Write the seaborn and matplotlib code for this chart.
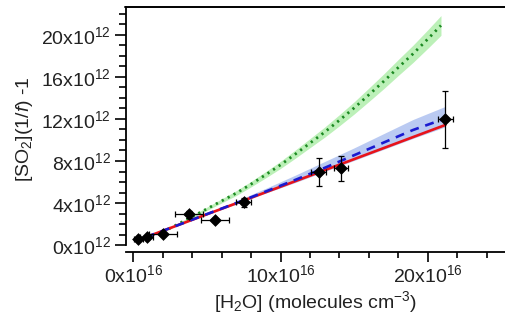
import matplotlib
matplotlib.use("Agg")
import matplotlib.pyplot as plt
import matplotlib.ticker as mticker
from matplotlib.lines import Line2D
import seaborn as sns
import numpy as np
import pandas as pd

# measured points, x in 1e16 molecules cm-3, y in 1e12
h2o = [0.34, 0.91, 2.04, 3.8, 5.57, 7.5, 12.6, 14.1, 21.2]
so2 = [0.6, 0.73, 1.04, 2.92, 2.37, 4.05, 6.95, 7.3, 11.95]
h2o_err = [0.3, 0.45, 0.95, 0.95, 0.95, 0.5, 0.5, 0.5, 0.5]
so2_err = [0.1, 0.1, 0.15, 0.3, 0.2, 0.45, 1.35, 1.2, 2.7]

# linear fit (red)
red_x = [0.85, 21.2]
red_y = [0.75, 11.43]

# blue dashed model + band
blue_x = [0.85, 3, 5, 7, 9, 11, 13, 15, 17, 19, 21.2]
blue_y = [0.75, 1.88, 2.95, 4.0, 5.1, 6.2, 7.35, 8.55, 9.75, 10.95, 12.05]
blue_lo = [0.74, 1.85, 2.88, 3.9, 4.95, 5.95, 7.0, 8.05, 9.1, 10.15, 11.25]
blue_hi = [0.76, 1.93, 3.07, 4.2, 5.4, 6.65, 7.95, 9.25, 10.6, 11.95, 13.2]

# green dotted model + band
green_x = [2.0, 3, 4, 5, 6, 7, 8, 9, 10, 11, 12, 13, 14, 15, 16, 17, 18, 19, 20, 20.9]
green_y = [1.25, 1.97, 2.7, 3.45, 4.2, 4.95, 5.8, 6.7, 7.63, 8.65, 9.7, 10.75,
           11.88, 13.05, 14.3, 15.57, 16.9, 18.2, 19.6, 20.9]
green_lo = [1.19, 1.88, 2.58, 3.29, 4.01, 4.72, 5.54, 6.4, 7.29, 8.26, 9.27, 10.27,
            11.35, 12.47, 13.66, 14.87, 16.14, 17.38, 18.72, 19.96]
green_hi = [1.31, 2.06, 2.82, 3.61, 4.39, 5.18, 6.06, 7.0, 7.97, 9.04, 10.13, 11.23,
            12.41, 13.63, 14.94, 16.27, 17.66, 19.02, 20.48, 21.84]

sns.set_theme(style="ticks")
plt.rcParams['font.family'] = ['Liberation Sans', 'DejaVu Sans']
plt.rcParams['mathtext.fontset'] = 'custom'
plt.rcParams['mathtext.rm'] = 'Liberation Sans'
plt.rcParams['mathtext.it'] = 'Liberation Sans:italic'
plt.rcParams['mathtext.bf'] = 'Liberation Sans:bold'

fig = plt.figure(figsize=(5.05, 3.27), dpi=100)
ax = fig.add_axes([0.2495, 0.2294, 0.7505, 0.7506])

ax.fill_between(green_x, green_lo, green_hi, color='#a6eba0', alpha=0.75, lw=0)
ax.fill_between(blue_x, blue_lo, blue_hi, color='#a9bdef', alpha=0.8, lw=0)

df_red = pd.DataFrame({'x': red_x, 'y': red_y})
df_blue = pd.DataFrame({'x': blue_x, 'y': blue_y})
df_green = pd.DataFrame({'x': green_x, 'y': green_y})

sns.lineplot(data=df_green, x='x', y='y', ax=ax, color='#1c8a22', lw=2.0,
             linestyle=(0, (0.8, 1.6)), sort=False)
sns.lineplot(data=df_red, x='x', y='y', ax=ax, color='#e8131a', lw=1.9, sort=False)
sns.lineplot(data=df_blue, x='x', y='y', ax=ax, color='#1a1ad0', lw=1.9,
             linestyle=(0, (3.4, 2.6)), sort=False)

ax.errorbar(h2o, so2, xerr=h2o_err, yerr=so2_err, fmt='none', ecolor='black',
            elinewidth=0.9, capsize=2.5, capthick=0.9, zorder=4)
sns.scatterplot(x=h2o, y=so2, ax=ax, marker='D', s=36, color='black',
                edgecolor='black', zorder=5)

ax.set_xlim(-0.5, 25.25)
ax.set_ylim(-0.66, 22.7)

ax.xaxis.set_major_locator(mticker.MultipleLocator(10))
ax.xaxis.set_minor_locator(mticker.MultipleLocator(2))
ax.yaxis.set_major_locator(mticker.MultipleLocator(4))
ax.yaxis.set_minor_locator(mticker.MultipleLocator(1))
ax.xaxis.set_major_formatter(mticker.FuncFormatter(lambda v, p: f"{v:.0f}x10$^{{16}}$"))
ax.yaxis.set_major_formatter(mticker.FuncFormatter(lambda v, p: f"{v:.0f}x10$^{{12}}$"))

ax.tick_params(axis='both', which='major', labelsize=14, width=1.2, color='black',
               labelcolor='#222222')
ax.tick_params(axis='x', which='major', length=7, pad=2)
ax.tick_params(axis='x', which='minor', length=4.5, width=1.2, color='black')
ax.tick_params(axis='y', which='major', length=8, pad=3)
ax.tick_params(axis='y', which='minor', length=5, width=1.2, color='black')

sns.despine(ax=ax, top=True, right=True)
for s in ['left', 'bottom']:
    ax.spines[s].set_color('black')
    ax.spines[s].set_linewidth(1.3)
ax.spines['left'].set_bounds(0, 22.7)

ax.set_xlabel("[H$_2$O] (molecules cm$^{-3}$)", fontsize=14, color='#222222', labelpad=2)
ax.set_ylabel("[SO$_2$](1/$f$) -1", fontsize=14, color='#222222', labelpad=4)

# frame line along the top of the plot box, drawn last on the figure
top_y = 1 - 6.5 / 327
top_line = Line2D([0.2475, 1.0], [top_y, top_y], transform=fig.transFigure,
                  color='black', lw=1.4, zorder=100)
fig.add_artist(top_line)

fig.savefig("out.png", dpi=100)
